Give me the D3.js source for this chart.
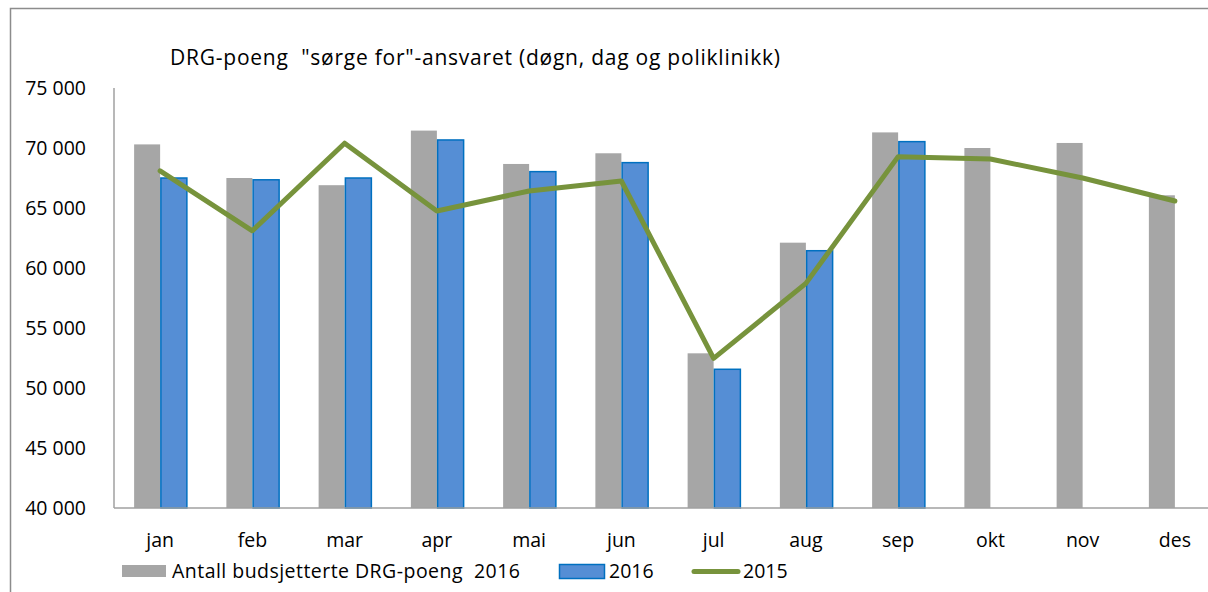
<!DOCTYPE html>
<html>
<head>
<meta charset="utf-8">
<script src="https://cdn.jsdelivr.net/npm/d3@7"></script>
<style>
  html, body { margin: 0; padding: 0; background: #fff; overflow: hidden; }
  text { font-family: "Open Sans", Lato, sans-serif; fill: #000; }
</style>
</head>
<body>
<div id="chart"></div>
<script>
var months = ["jan", "feb", "mar", "apr", "mai", "jun", "jul", "aug", "sep", "okt", "nov", "des"];
var budget2016 = [70300, 67500, 66900, 71450, 68670, 69560, 52890, 62110, 71300, 70000, 70420, 66060];
var actual2016 = [67500, 67350, 67500, 70670, 68030, 68780, 51560, 61440, 70530, null, null, null];
var actual2015 = [68100, 63100, 70400, 64750, 66420, 67250, 52470, 58720, 69280, 69080, 67500, 65580];
var yTicks = [40000, 45000, 50000, 55000, 60000, 65000, 70000, 75000];

var W = 1208, H = 592;
var svg = d3.select("#chart").append("svg")
    .attr("width", W)
    .attr("height", H);

// outer chart frame (cut off at right and bottom)
svg.append("rect")
    .attr("x", 10.5).attr("y", 8.5)
    .attr("width", 1300).attr("height", 700)
    .attr("fill", "none")
    .attr("stroke", "#8c8c8c")
    .attr("stroke-width", 1.5);

var plotL = 114, plotR = 1221, plotT = 88, plotB = 508;

var x = d3.scaleBand().domain(months).range([plotL, plotR]);
var y = d3.scaleLinear().domain([40000, 75000]).range([plotB, plotT]);
var fmt = function (v) { return d3.format(",")(v).replace(",", " "); };

var barW = 26;

// gray budget bars, left of centre
svg.selectAll(".budget").data(budget2016).enter().append("rect")
    .attr("x", function (d, i) { return x(months[i]) + x.bandwidth() / 2 - barW; })
    .attr("y", function (d) { return y(d); })
    .attr("width", barW)
    .attr("height", function (d) { return plotB - y(d); })
    .attr("fill", "#a6a6a6");

// blue 2016 bars, right of centre
svg.selectAll(".act").data(actual2016.filter(function (d) { return d != null; })).enter().append("rect")
    .attr("x", function (d, i) { return x(months[i]) + x.bandwidth() / 2 + 0.75; })
    .attr("y", function (d) { return y(d); })
    .attr("width", barW)
    .attr("height", function (d) { return plotB - y(d); })
    .attr("fill", "#558ed5")
    .attr("stroke", "#0070c0")
    .attr("stroke-width", 1.5);

// axes lines
svg.append("line")
    .attr("x1", plotL).attr("x2", plotL)
    .attr("y1", plotT).attr("y2", plotB)
    .attr("stroke", "#a0a0a0").attr("stroke-width", 1.5);
svg.append("line")
    .attr("x1", plotL).attr("x2", W)
    .attr("y1", plotB).attr("y2", plotB)
    .attr("stroke", "#a0a0a0").attr("stroke-width", 1.5);

// 2015 line
var line = d3.line()
    .x(function (d, i) { return x(months[i]) + x.bandwidth() / 2; })
    .y(function (d) { return y(d); });
svg.append("path")
    .datum(actual2015)
    .attr("d", line)
    .attr("fill", "none")
    .attr("stroke", "#77933c")
    .attr("stroke-width", 5)
    .attr("stroke-linejoin", "round")
    .attr("stroke-linecap", "round");

// y tick labels
svg.selectAll(".ytick").data(yTicks).enter().append("text")
    .attr("x", 86)
    .attr("y", function (d) { return y(d) + 7; })
    .attr("text-anchor", "end")
    .attr("font-size", 19.5)
    .text(fmt);

// month labels
svg.selectAll(".xtick").data(months).enter().append("text")
    .attr("x", function (d) { return x(d) + x.bandwidth() / 2; })
    .attr("y", 547)
    .attr("text-anchor", "middle")
    .attr("font-size", 19.5)
    .text(function (d) { return d; });

// title
svg.append("text")
    .attr("x", 170)
    .attr("y", 65)
    .attr("font-size", 21)
    .attr("textLength", 610)
    .attr("lengthAdjust", "spacing")
    .attr("xml:space", "preserve")
    .text("DRG-poeng  \"sørge for\"-ansvaret (døgn, dag og poliklinikk)");

// legend
var lg = svg.append("g");
lg.append("rect").attr("x", 122).attr("y", 565).attr("width", 44).attr("height", 12).attr("fill", "#a6a6a6");
lg.append("text").attr("x", 172).attr("y", 578).attr("font-size", 19.5)
    .attr("textLength", 348).attr("lengthAdjust", "spacing")
    .attr("xml:space", "preserve").text("Antall budsjetterte DRG-poeng  2016");
lg.append("rect").attr("x", 559.5).attr("y", 564.5).attr("width", 45).attr("height", 14)
    .attr("fill", "#558ed5").attr("stroke", "#0070c0").attr("stroke-width", 1.5);
lg.append("text").attr("x", 609).attr("y", 578).attr("font-size", 19.5).text("2016");
lg.append("line").attr("x1", 694).attr("x2", 738).attr("y1", 571.5).attr("y2", 571.5)
    .attr("stroke", "#77933c").attr("stroke-width", 5).attr("stroke-linecap", "round");
lg.append("text").attr("x", 743).attr("y", 578).attr("font-size", 19.5).text("2015");
</script>
</body>
</html>
